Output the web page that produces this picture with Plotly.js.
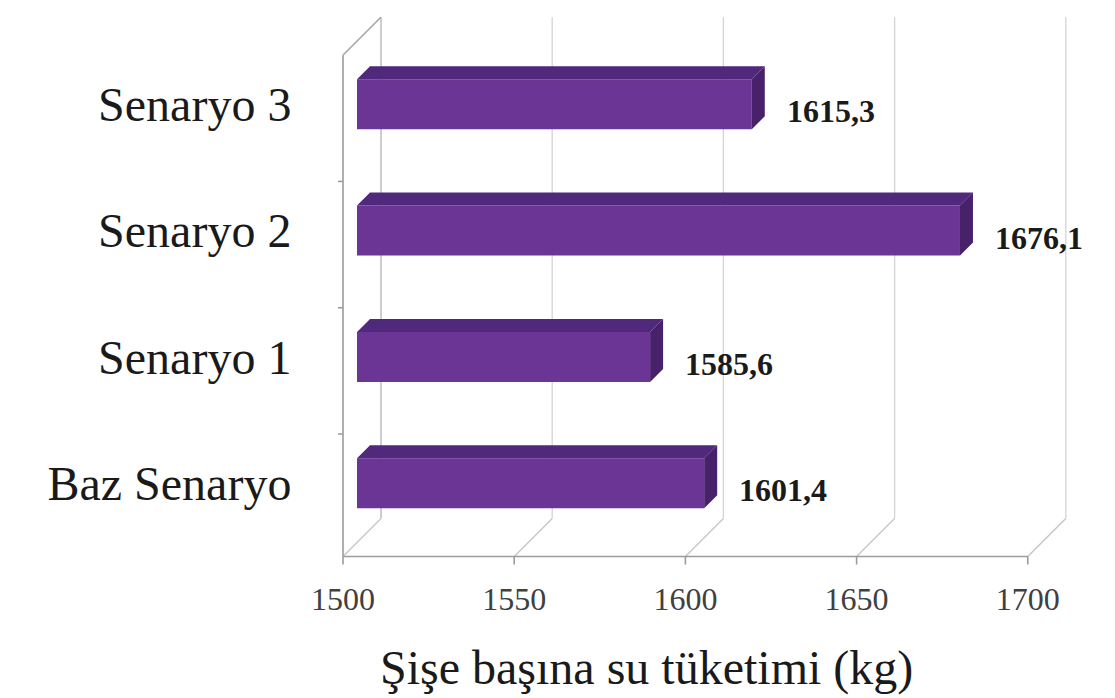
<!DOCTYPE html>
<html>
<head>
<meta charset="utf-8">
<script src="https://cdn.plot.ly/plotly-3.0.1.min.js"></script>
<style>
  html, body { margin: 0; padding: 0; background: #ffffff; }
  #chart { width: 1115px; height: 698px; }
</style>
</head>
<body>
<div id="chart"></div>
<script>
// Water use per bottle for each scenario
const categories = ['Baz Senaryo', 'Senaryo 1', 'Senaryo 2', 'Senaryo 3'];
const values = [1601.4, 1585.6, 1676.1, 1615.3];
const valueLabels = ['1601,4', '1585,6', '1676,1', '1615,3'];
const xTicks = [1500, 1550, 1600, 1650, 1700];
const xTickLabels = ['1500', '1550', '1600', '1650', '1700'];
const rowBoundaries = [0.5, 1.5, 2.5];
const axisTitle = 'Şişe başına su tüketimi (kg)';

// ---- page geometry (pixels) ----
const W = 1115, H = 698;
const M = { l: 306, r: 15, t: 5, b: 133 };
const plotW = W - M.l - M.r;
const plotH = H - M.t - M.b;
const baseVal = 1500;          // bars start here
const barLeftPx = 357;         // baseVal on the plane of the bar fronts
const pxPerUnit = 3.424;       // horizontal scale
const rowPx = 126.3;           // distance between category rows
const firstRowPx = 483.2;      // centre of the first row
const xRange = [baseVal - (barLeftPx - M.l) / pxPerUnit,
                baseVal + (M.l + plotW - barLeftPx) / pxPerUnit];
const yRange = [-(M.t + plotH - firstRowPx) / rowPx, (firstRowPx - M.t) / rowPx];

// pseudo-3D depth offsets (pixels along the 45° receding direction)
const FRONT = -14, BACK = 24, BAR_DEPTH = 13;
const FLOOR = -0.47, TOP = 3.5;
const BAR_W = 0.396;

// move a point (value, row) back by d pixels of depth
function shift(v, c, d) { return [v + d / pxPerUnit, c + d / rowPx]; }

// ---- walls and floor of the box (drawn beneath the bars) ----
const shapes = [];
function seg(a, b, color, width) {
  shapes.push({ type: 'line', xref: 'x', yref: 'y', layer: 'below',
    x0: a[0], y0: a[1], x1: b[0], y1: b[1], line: { color: color, width: width } });
}
xTicks.forEach(function (v, i) {
  seg(shift(v, FLOOR, FRONT), shift(v, FLOOR, BACK), '#c6c6c6', 1.3);
  seg(shift(v, FLOOR, BACK), shift(v, TOP, BACK), i === 0 ? '#b4b4b4' : '#d4d4d4', 1.3);
});
seg(shift(baseVal, TOP, FRONT), shift(baseVal, TOP, BACK), '#a8a8a8', 1.5);

// ---- front edges of the box, on the front-plane axis (x2) ----
const frontX = [], frontY = [];
const fy = function (c) { return c + FRONT / rowPx; };
function addLine(x0, y0, x1, y1) { frontX.push(x0, x1, null); frontY.push(y0, y1, null); }
addLine(xTicks[0], fy(FLOOR), xTicks[xTicks.length - 1], fy(FLOOR));
addLine(xTicks[0], fy(FLOOR), xTicks[0], fy(TOP));
xTicks.forEach(function (v) { addLine(v, fy(FLOOR), v, fy(FLOOR) - 8 / rowPx); });
rowBoundaries.forEach(function (b) { addLine(xTicks[0] - 5 / pxPerUnit, fy(b), xTicks[0], fy(b)); });

// ---- bar top and end faces ----
const rows = categories.map(function (_, i) { return i; });
const topX = [], topY = [], sideX = [], sideY = [];
values.forEach(function (v, i) {
  const yt = rows[i] + BAR_W / 2, yb = rows[i] - BAR_W / 2;
  const pts = [[baseVal, yt], shift(baseVal, yt, BAR_DEPTH), shift(v, yt, BAR_DEPTH), [v, yt], [baseVal, yt]];
  pts.forEach(function (p) { topX.push(p[0]); topY.push(p[1]); });
  topX.push(null); topY.push(null);
  const side = [[v, yb], [v, yt], shift(v, yt, BAR_DEPTH), shift(v, yb, BAR_DEPTH), [v, yb]];
  side.forEach(function (p) { sideX.push(p[0]); sideY.push(p[1]); });
  sideX.push(null); sideY.push(null);
});

const traces = [
  {
    type: 'bar', orientation: 'h',
    y: rows, x: values.map(function (v) { return v - baseVal; }), base: baseVal,
    width: BAR_W,
    marker: { color: '#6b3596', line: { width: 0 } },
    hoverinfo: 'skip', showlegend: false
  },
  {
    type: 'scatter', mode: 'lines', x: topX, y: topY, fill: 'toself',
    fillcolor: '#50287c', line: { width: 0, color: '#50287c' },
    hoverinfo: 'skip', showlegend: false
  },
  {
    type: 'scatter', mode: 'lines', x: sideX, y: sideY, fill: 'toself',
    fillcolor: '#47226b', line: { width: 0, color: '#47226b' },
    hoverinfo: 'skip', showlegend: false
  },
  {
    type: 'scatter', mode: 'lines', xaxis: 'x2', yaxis: 'y',
    x: frontX, y: frontY, line: { color: '#9c9c9c', width: 1.6 },
    hoverinfo: 'skip', showlegend: false
  }
];

const annotations = values.map(function (v, i) {
  return {
    x: v, y: rows[i], xref: 'x', yref: 'y', xanchor: 'left', yanchor: 'middle',
    xshift: 33, yshift: -7, showarrow: false, text: valueLabels[i],
    font: { family: 'Liberation Serif, Times New Roman, serif', size: 32, color: '#1a1a1a', weight: 700 }
  };
});
annotations.push({
  xref: 'paper', yref: 'paper',
  x: (646 - M.l) / plotW, y: (M.t + plotH - 668) / plotH,
  xanchor: 'center', yanchor: 'middle', showarrow: false, text: axisTitle,
  font: { family: 'Liberation Serif, Times New Roman, serif', size: 48, color: '#1a1a1a' }
});

const layout = {
  width: W, height: H,
  margin: M,
  paper_bgcolor: '#ffffff', plot_bgcolor: '#ffffff',
  showlegend: false,
  xaxis: {
    range: xRange, showticklabels: false, showgrid: false, zeroline: false,
    showline: false, ticks: '', fixedrange: true
  },
  xaxis2: {
    overlaying: 'x', anchor: 'y', side: 'bottom',
    range: [xRange[0] - FRONT / pxPerUnit, xRange[1] - FRONT / pxPerUnit],
    tickmode: 'array', tickvals: xTicks, ticktext: xTickLabels,
    ticks: 'outside', ticklen: 6, tickcolor: 'rgba(0,0,0,0)',
    showgrid: false, zeroline: false, showline: false, fixedrange: true,
    tickfont: { family: 'Liberation Serif, Times New Roman, serif', size: 32, color: '#404040' }
  },
  yaxis: {
    range: yRange, tickmode: 'array', tickvals: rows, ticktext: categories,
    ticks: 'outside', ticklen: 4, tickcolor: 'rgba(0,0,0,0)',
    showgrid: false, zeroline: false, showline: false, fixedrange: true,
    tickfont: { family: 'Liberation Serif, Times New Roman, serif', size: 48, color: '#1a1a1a' }
  },
  shapes: shapes,
  annotations: annotations
};

Plotly.newPlot('chart', traces, layout, { displayModeBar: false, staticPlot: true });
</script>
</body>
</html>
